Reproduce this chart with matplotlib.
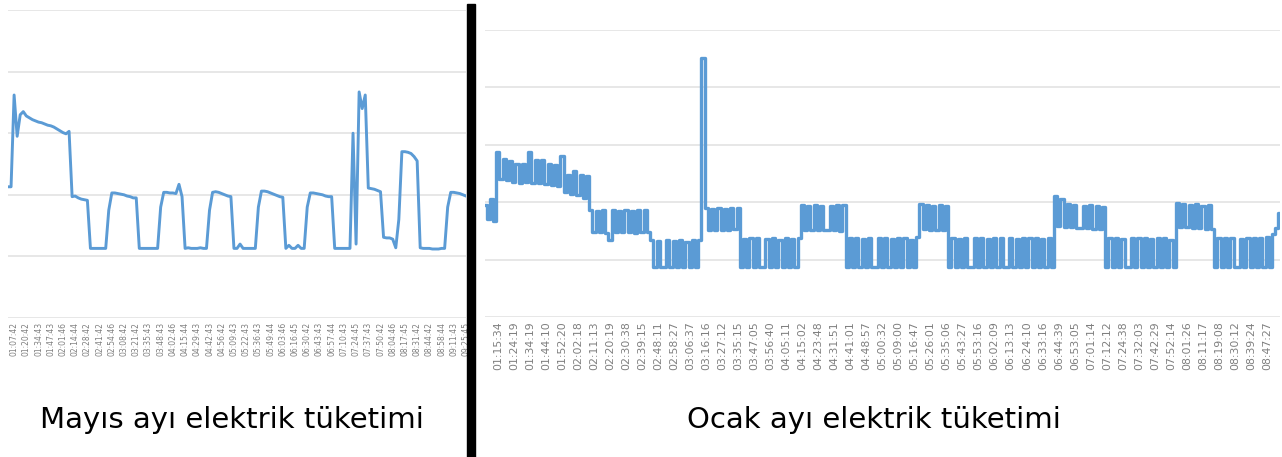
import matplotlib
matplotlib.use("Agg")
import matplotlib.pyplot as plt
from matplotlib.patches import Rectangle

# keep every on/off switch of the heater visible
plt.rcParams["path.simplify"] = False

# May consumption, one value every few minutes
mayis_values = [
  2.13, 2.13, 3.62, 2.95, 3.30, 3.35, 3.28, 3.25, 3.22, 3.20, 3.18,
  3.17, 3.15, 3.13, 3.12, 3.10, 3.07, 3.04, 3.01, 2.99, 3.03,
  1.97, 1.98, 1.95, 1.93, 1.92, 1.91,
  1.13, 1.13, 1.13, 1.13, 1.13, 1.13,
  1.75, 2.03, 2.03, 2.02, 2.01, 2.00, 1.98, 1.97, 1.95, 1.95,
  1.13, 1.13, 1.13, 1.13, 1.13, 1.13, 1.13,
  1.80, 2.04, 2.04, 2.03, 2.03, 2.02, 2.17, 1.97,
  1.13, 1.14, 1.13, 1.13, 1.13, 1.14, 1.13, 1.13,
  1.75, 2.04, 2.05, 2.04, 2.02, 2.00, 1.98, 1.97,
  1.13, 1.13, 1.20, 1.13, 1.13, 1.13, 1.13, 1.13,
  1.80, 2.06, 2.06, 2.05, 2.03, 2.01, 1.99, 1.97, 1.96,
  1.13, 1.18, 1.13, 1.13, 1.18, 1.13, 1.13,
  1.80, 2.03, 2.03, 2.02, 2.01, 2.00, 1.98, 1.97, 1.97,
  1.13, 1.13, 1.13, 1.13, 1.13, 1.13,
  3.00, 1.20, 3.67, 3.40, 3.62,
  2.11, 2.10, 2.09, 2.07, 2.05,
  1.31, 1.30, 1.30, 1.28,
  1.14, 1.60,
  2.70, 2.70, 2.69, 2.67, 2.62, 2.55,
  1.14, 1.13, 1.13, 1.13, 1.12, 1.12, 1.12, 1.13, 1.13,
  1.80, 2.04, 2.04, 2.03, 2.02, 2.00, 1.98,
]

mayis_labels = [
  "01:07:42", "01:20:42", "01:34:43", "01:47:43", "02:01:46", "02:14:44",
  "02:28:42", "02:41:42", "02:54:46", "03:08:42", "03:21:42", "03:35:43",
  "03:48:43", "04:02:46", "04:15:44", "04:29:43", "04:42:43", "04:56:42",
  "05:09:43", "05:22:43", "05:36:43", "05:49:44", "06:03:46", "06:16:45",
  "06:30:42", "06:43:43", "06:57:44", "07:10:43", "07:24:45", "07:37:43",
  "07:50:42", "08:04:46", "08:17:45", "08:31:42", "08:44:42", "08:58:44",
  "09:11:43", "09:25:45",
]

# January consumption, heater switching on and off quickly
ocak_values = [
  1.95, 1.70, 2.05, 1.68,
  2.87, 2.40, 2.75, 2.38, 2.72, 2.35, 2.66, 2.33, 2.66, 2.36,
  2.87, 2.34, 2.74, 2.33, 2.73, 2.32, 2.66, 2.30, 2.64, 2.28,
  2.80, 2.18, 2.48, 2.15, 2.55, 2.12, 2.48, 2.07, 2.46,
  1.87, 1.48, 1.85, 1.48, 1.86, 1.47, 1.34, 1.86, 1.48, 1.85,
  1.48, 1.86, 1.48, 1.85, 1.47, 1.86, 1.48, 1.86, 1.48,
  1.34, 0.87, 1.32, 0.87, 0.87, 1.34, 0.87, 1.33, 0.87, 1.34,
  0.87, 1.30, 0.87, 1.35, 0.87, 1.34,
  4.51,
  1.90, 1.52, 1.89, 1.52, 1.90, 1.52, 1.88, 1.52, 1.90, 1.53, 1.90,
  0.87, 1.36, 0.87, 1.38, 0.87, 1.37, 0.87, 0.87, 1.36, 0.87,
  1.38, 0.87, 1.35, 0.87, 1.37, 0.87, 1.36, 0.87, 1.38,
  1.95, 1.52, 1.94, 1.52, 1.95, 1.51, 1.94, 1.51, 1.52, 1.94,
  1.51, 1.95, 1.50, 1.95,
  0.87, 1.37, 0.87, 1.38, 0.87, 1.36, 0.87, 1.38, 0.87, 0.87,
  1.37, 0.87, 1.38, 0.87, 1.36, 0.87, 1.38, 0.87, 1.37, 0.87,
  1.35, 0.87, 1.39,
  1.97, 1.53, 1.95, 1.52, 1.94, 1.52, 1.95, 1.51, 1.94,
  0.87, 1.38, 0.87, 1.36, 0.87, 1.38, 0.87, 0.87, 1.37, 0.87,
  1.38, 0.87, 1.36, 0.87, 1.38, 0.87, 1.37, 0.87, 0.87, 1.38,
  0.87, 1.36, 0.87, 1.38, 0.87, 1.37, 0.87, 1.38, 0.87, 1.36,
  0.87, 1.38, 0.87,
  2.10, 1.58, 2.05, 1.56, 1.96, 1.56, 1.95, 1.55, 1.55, 1.94,
  1.55, 1.95, 1.54, 1.93, 1.54, 1.92,
  0.87, 1.37, 0.87, 1.38, 0.87, 1.36, 0.87, 0.87, 1.38, 0.87,
  1.37, 0.87, 1.38, 0.87, 1.36, 0.87, 1.37, 0.87, 1.38, 0.87,
  1.35, 0.87,
  1.98, 1.57, 1.96, 1.56, 1.95, 1.55, 1.96, 1.55, 1.94, 1.54,
  1.95, 1.54,
  0.87, 1.38, 0.87, 1.37, 0.87, 1.38, 0.87, 0.87, 1.36, 0.87,
  1.38, 0.87, 1.37, 0.87, 1.38, 0.87, 1.40, 0.87, 1.45,
  1.55, 1.81,
]

ocak_labels = [
  "01:15:34", "01:24:19", "01:34:19", "01:44:10", "01:52:20", "02:02:18",
  "02:11:13", "02:20:19", "02:30:38", "02:39:15", "02:48:11", "02:58:27",
  "03:06:37", "03:16:16", "03:27:12", "03:35:15", "03:47:05", "03:56:40",
  "04:05:11", "04:15:02", "04:23:48", "04:31:51", "04:41:01", "04:48:57",
  "05:00:32", "05:09:00", "05:16:47", "05:26:01", "05:35:06", "05:43:27",
  "05:53:16", "06:02:09", "06:13:13", "06:24:10", "06:33:16", "06:44:39",
  "06:53:05", "07:01:14", "07:12:12", "07:24:38", "07:32:03", "07:42:29",
  "07:52:14", "08:01:26", "08:11:17", "08:19:08", "08:30:12", "08:39:24",
  "08:47:27",
]

captions = ["Mayıs ayı elektrik tüketimi", "Ocak ayı elektrik tüketimi"]

BLUE = "#5B9BD5"
GRID = "#E3E3E3"
TICK = "#7F7F7F"
W, H = 1282, 457


def style_axis(ax, labels, first, step, size):
  ax.set_ylim(0, 5)
  ax.set_yticks(range(6))
  ax.set_yticklabels([])
  ax.tick_params(axis="y", length=0)
  ax.grid(axis="y", color=GRID, linewidth=1.2)
  ax.set_axisbelow(True)
  for s in ax.spines.values():
    s.set_visible(False)
  ax.set_xticks([first + step * k for k in range(len(labels))])
  ax.set_xticklabels(labels, rotation=90, fontsize=size, color=TICK)
  ax.tick_params(axis="x", length=0, pad=3)


fig = plt.figure(figsize=(W / 100, H / 100), dpi=100)

# left panel (May)
ax1 = fig.add_axes([8 / W, (H - 318) / H, 458 / W, 308 / H])
ax1.plot(range(len(mayis_values)), mayis_values, color=BLUE, linewidth=2.1)
ax1.set_xlim(0, len(mayis_values) - 1)
style_axis(ax1, mayis_labels, 2, 4, 5.5)

# right panel (January)
ax2 = fig.add_axes([485 / W, (H - 317) / H, 795 / W, 287 / H])
ax2.plot(range(len(ocak_values)), ocak_values, color=BLUE, linewidth=2.4,
         drawstyle="steps-mid")
ax2.set_xlim(0, len(ocak_values) - 1)
style_axis(ax2, ocak_labels, 4, 5, 7.8)

fig.text(232 / W, 1 - 420 / H, captions[0], ha="center", va="center",
         fontsize=21, color="black")
fig.text(874 / W, 1 - 420 / H, captions[1], ha="center", va="center",
         fontsize=21, color="black")

# black divider between the two screenshots
fig.patches.append(Rectangle((467 / W, 0), 8 / W, (H - 4) / H,
                             transform=fig.transFigure, color="black",
                             zorder=10))

fig.savefig("out.png", dpi=100)
